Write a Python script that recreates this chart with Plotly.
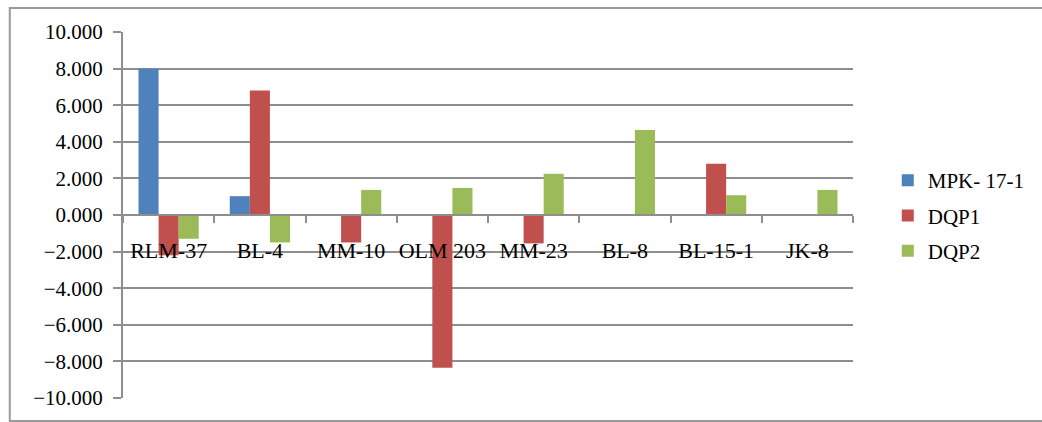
import plotly.graph_objects as go

categories = ["RLM-37", "BL-4", "MM-10", "OLM 203", "MM-23", "BL-8", "BL-15-1", "JK-8"]
mpk_17_1 = [8.0, 1.03, None, None, None, None, None, None]
dqp1 = [-2.2, 6.8, -1.5, -8.35, -1.55, None, 2.8, None]
dqp2 = [-1.3, -1.5, 1.37, 1.48, 2.25, 4.65, 1.08, 1.37]
y_ticks = [10, 8, 6, 4, 2, 0, -2, -4, -6, -8, -10]

FONT = "Liberation Serif, Times New Roman, serif"
GRID = "#8E8E8E"

fig = go.Figure()
for name, vals, color in [("MPK- 17-1", mpk_17_1, "#4F81BD"),
                          ("DQP1", dqp1, "#C0504D"),
                          ("DQP2", dqp2, "#9BBB59")]:
    fig.add_trace(go.Bar(x=categories, y=vals, name=name, legendgroup=name,
                         marker=dict(color=color, line=dict(width=0))))

W, H = 1042, 422
L, R, T, B = 123, 184, 32, 24
pw = W - L - R
ph = H - T - B

def px(x):
    return (x - L) / pw

def py(y):
    return (H - B - y) / ph

fig.update_layout(
    width=W, height=H,
    margin=dict(l=L, r=R, t=T, b=B),
    paper_bgcolor="white", plot_bgcolor="white",
    barmode="group", bargap=0.34, bargroupgap=0,
    font=dict(family=FONT, size=21, color="#000000"),
    showlegend=True,
    legend=dict(x=px(893), xanchor="left", y=py(160), yanchor="top",
                font=dict(family=FONT, size=21, color="#000000"),
                traceorder="grouped", tracegroupgap=5,
                bgcolor="rgba(0,0,0,0)"),
    xaxis=dict(anchor="free", position=0.5, showline=True, linecolor=GRID, linewidth=2,
               showgrid=False, zeroline=False, ticks="outside", tickson="boundaries",
               ticklen=7, tickwidth=2, tickcolor=GRID, ticklabelstandoff=16,
               tickangle=0,
               tickfont=dict(family=FONT, size=22, color="#000000")),
    yaxis=dict(range=[-10, 10], tickvals=y_ticks, tickformat=".3f",
               showline=True, linecolor=GRID, linewidth=2,
               showgrid=True, gridcolor=GRID, gridwidth=2, zeroline=False,
               ticks="outside", ticklen=8, tickwidth=2, tickcolor=GRID,
               ticklabelstandoff=6,
               tickfont=dict(family=FONT, size=21, color="#000000")),
    shapes=[dict(type="rect", xref="paper", yref="paper",
                 x0=px(9), x1=px(1060), y0=py(421), y1=py(8),
                 line=dict(color="#9A9A9A", width=2), layer="below")],
)

fig.write_html("out.html")
